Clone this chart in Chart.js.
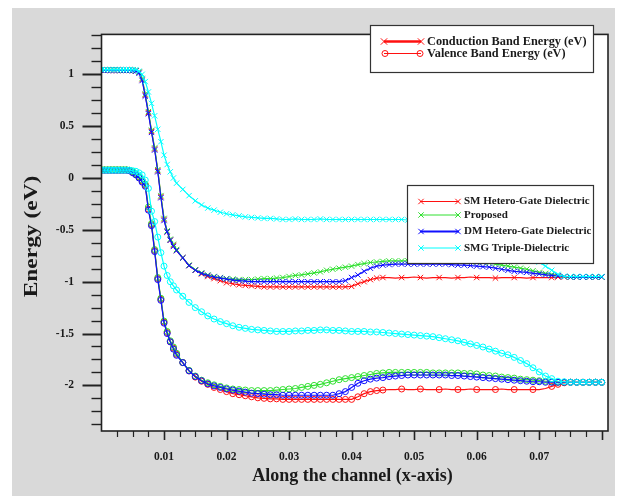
<!DOCTYPE html>
<html><head><meta charset="utf-8">
<script src="https://cdn.jsdelivr.net/npm/chart.js@4.4.1/dist/chart.umd.min.js"></script>
<style>
html,body{margin:0;padding:0;background:#fff;}
#panel{position:absolute;left:12px;top:8px;width:603px;height:488px;background:#d9d9d9;}
#c{position:absolute;left:0;top:0;}
</style></head><body>
<div id="panel"></div>
<canvas id="c" width="621" height="496"></canvas>
<script>
// ---------- data ----------
const xAlong = [0,0.0005,0.001,0.0015,0.002,0.0025,0.003,0.0035,0.004,0.0045,0.005,0.0055,0.006,0.0065,0.007,0.0075,0.008,0.0085,0.009,0.0095,0.010,0.0105,0.011,0.0115,0.012,
0.013,0.014,0.015,0.016,0.017,0.018,0.019,0.020,0.021,0.022,
0.023,0.024,0.025,0.026,0.027,0.028,0.029,0.030,0.031,0.032,
0.033,0.034,0.035,0.036,0.037,0.038,0.039,0.040,0.041,0.042,
0.043,0.044,0.045,0.046,0.047,0.048,0.049,0.050,0.051,0.052,
0.053,0.054,0.055,0.056,0.057,0.058,0.059,0.060,0.061,0.062,
0.063,0.064,0.065,0.066,0.067,0.068,0.069,0.070,0.071,0.072,
0.073,0.074,0.075,0.076,0.077,0.078,0.079,0.080];

// Conduction band (eV)
const cbSM = [1.04,1.04,1.04,1.04,1.04,1.04,1.04,1.04,1.04,1.04,1.04,1.035,1.02,0.95,0.80,0.63,0.45,0.28,0.07,-0.18,-0.40,-0.52,-0.60,-0.65,-0.70,
-0.77,-0.845,-0.89,-0.925,-0.95,-0.97,-0.99,-1.01,-1.02,-1.03,
-1.035,-1.04,-1.045,-1.05,-1.05,-1.05,-1.05,-1.05,-1.05,-1.05,
-1.05,-1.05,-1.05,-1.05,-1.05,-1.05,-1.05,-1.045,-1.02,-1.0,
-0.98,-0.965,-0.96,-0.96,-0.965,-0.96,-0.96,-0.955,-0.96,-0.965,
-0.96,-0.96,-0.96,-0.965,-0.96,-0.96,-0.955,-0.96,-0.96,-0.96,
-0.965,-0.96,-0.96,-0.96,-0.96,-0.965,-0.96,-0.96,-0.96,-0.96,
-0.955,-0.955,-0.955,-0.955,-0.955,-0.955,-0.955,-0.955];
const cbProp = [1.045,1.045,1.045,1.045,1.045,1.045,1.04,1.04,1.04,1.04,1.04,1.035,1.02,0.96,0.81,0.64,0.46,0.29,0.08,-0.17,-0.39,-0.51,-0.59,-0.64,-0.69,
-0.77,-0.84,-0.885,-0.915,-0.935,-0.95,-0.96,-0.97,-0.975,-0.98,
-0.98,-0.98,-0.975,-0.97,-0.97,-0.965,-0.96,-0.95,-0.94,-0.935,
-0.925,-0.915,-0.905,-0.89,-0.88,-0.87,-0.86,-0.85,-0.835,-0.825,
-0.815,-0.81,-0.805,-0.80,-0.80,-0.80,-0.80,-0.80,-0.80,-0.80,
-0.80,-0.80,-0.80,-0.80,-0.80,-0.80,-0.805,-0.81,-0.815,-0.82,
-0.83,-0.84,-0.85,-0.86,-0.87,-0.88,-0.895,-0.91,-0.92,-0.93,
-0.94,-0.95,-0.955,-0.955,-0.955,-0.955,-0.955,-0.955];
const cbDM = [1.04,1.04,1.04,1.04,1.04,1.04,1.04,1.04,1.04,1.04,1.035,1.03,1.01,0.94,0.79,0.62,0.44,0.27,0.06,-0.19,-0.41,-0.52,-0.60,-0.66,-0.70,
-0.77,-0.845,-0.89,-0.92,-0.94,-0.955,-0.965,-0.975,-0.985,-0.99,
-0.995,-1.0,-1.0,-1.0,-1.0,-1.0,-1.0,-1.0,-1.0,-1.0,
-1.0,-1.0,-1.0,-1.0,-1.0,-1.0,-0.99,-0.96,-0.935,-0.90,
-0.87,-0.85,-0.84,-0.835,-0.83,-0.83,-0.83,-0.83,-0.83,-0.83,
-0.83,-0.83,-0.83,-0.835,-0.84,-0.84,-0.845,-0.85,-0.855,-0.86,
-0.87,-0.88,-0.89,-0.90,-0.905,-0.91,-0.92,-0.925,-0.935,-0.94,
-0.945,-0.95,-0.955,-0.955,-0.955,-0.955,-0.955,-0.955];
const cbSMG = [1.045,1.045,1.045,1.045,1.045,1.045,1.045,1.045,1.045,1.045,1.045,1.045,1.03,1.0,0.93,0.83,0.72,0.60,0.47,0.35,0.22,0.13,0.06,0.0,-0.05,
-0.11,-0.17,-0.22,-0.26,-0.29,-0.31,-0.33,-0.345,-0.355,-0.365,
-0.375,-0.38,-0.385,-0.39,-0.39,-0.395,-0.40,-0.40,-0.395,-0.40,
-0.40,-0.40,-0.395,-0.40,-0.40,-0.40,-0.40,-0.40,-0.40,-0.40,
-0.40,-0.40,-0.40,-0.40,-0.40,-0.40,-0.405,-0.41,-0.415,-0.42,
-0.425,-0.43,-0.44,-0.45,-0.46,-0.475,-0.49,-0.505,-0.52,-0.54,
-0.56,-0.585,-0.615,-0.65,-0.69,-0.73,-0.77,-0.81,-0.85,-0.89,
-0.93,-0.95,-0.95,-0.95,-0.95,-0.95,-0.95,-0.95];

// Valence band (eV)
const vbSM = [0.075,0.075,0.075,0.075,0.075,0.075,0.075,0.075,0.075,0.07,0.055,0.035,0.01,-0.03,-0.07,-0.30,-0.45,-0.70,-0.97,-1.17,-1.39,-1.49,-1.58,-1.64,-1.70,
-1.78,-1.86,-1.92,-1.96,-1.99,-2.02,-2.04,-2.06,-2.08,-2.09,
-2.10,-2.11,-2.12,-2.125,-2.13,-2.13,-2.135,-2.135,-2.135,-2.135,
-2.135,-2.135,-2.135,-2.135,-2.135,-2.135,-2.135,-2.135,-2.11,-2.08,
-2.06,-2.05,-2.045,-2.04,-2.04,-2.035,-2.04,-2.04,-2.035,-2.04,
-2.04,-2.04,-2.035,-2.04,-2.04,-2.04,-2.035,-2.04,-2.04,-2.04,
-2.04,-2.035,-2.04,-2.04,-2.04,-2.04,-2.04,-2.04,-2.03,-2.01,
-1.99,-1.975,-1.97,-1.97,-1.97,-1.97,-1.97,-1.97];
const vbProp = [0.08,0.08,0.08,0.08,0.08,0.08,0.08,0.08,0.08,0.075,0.06,0.04,0.015,-0.02,-0.06,-0.28,-0.44,-0.69,-0.96,-1.16,-1.38,-1.48,-1.57,-1.63,-1.69,
-1.78,-1.855,-1.91,-1.95,-1.975,-1.995,-2.01,-2.025,-2.035,-2.04,
-2.045,-2.05,-2.05,-2.05,-2.05,-2.045,-2.04,-2.035,-2.03,-2.02,
-2.01,-2.0,-1.99,-1.975,-1.96,-1.945,-1.935,-1.925,-1.915,-1.905,
-1.895,-1.885,-1.88,-1.875,-1.875,-1.875,-1.875,-1.875,-1.875,-1.875,
-1.88,-1.88,-1.88,-1.88,-1.88,-1.885,-1.885,-1.89,-1.90,-1.905,
-1.91,-1.92,-1.925,-1.93,-1.94,-1.945,-1.95,-1.955,-1.96,-1.965,
-1.97,-1.97,-1.97,-1.97,-1.97,-1.97,-1.97,-1.97];
const vbDM = [0.075,0.075,0.075,0.075,0.075,0.075,0.075,0.075,0.075,0.07,0.05,0.03,0.0,-0.04,-0.08,-0.31,-0.46,-0.71,-0.98,-1.18,-1.40,-1.50,-1.58,-1.65,-1.71,
-1.78,-1.86,-1.915,-1.955,-1.985,-2.005,-2.02,-2.035,-2.045,-2.055,
-2.065,-2.075,-2.08,-2.085,-2.09,-2.09,-2.095,-2.095,-2.095,-2.095,
-2.095,-2.095,-2.095,-2.095,-2.095,-2.08,-2.06,-2.02,-1.98,-1.955,
-1.94,-1.93,-1.925,-1.915,-1.91,-1.905,-1.90,-1.90,-1.90,-1.90,
-1.90,-1.90,-1.90,-1.905,-1.905,-1.91,-1.915,-1.92,-1.925,-1.93,
-1.935,-1.94,-1.945,-1.95,-1.955,-1.96,-1.965,-1.965,-1.97,-1.97,
-1.97,-1.97,-1.97,-1.97,-1.97,-1.97,-1.97,-1.97];
const vbSMG = [0.075,0.075,0.075,0.075,0.075,0.075,0.075,0.075,0.075,0.075,0.07,0.065,0.05,0.03,-0.02,-0.10,-0.32,-0.42,-0.57,-0.72,-0.85,-0.94,-1.00,-1.04,-1.08,
-1.14,-1.20,-1.25,-1.29,-1.33,-1.36,-1.385,-1.405,-1.425,-1.44,
-1.45,-1.46,-1.465,-1.47,-1.475,-1.48,-1.48,-1.48,-1.475,-1.475,
-1.47,-1.47,-1.465,-1.465,-1.47,-1.47,-1.475,-1.48,-1.48,-1.48,
-1.485,-1.485,-1.49,-1.495,-1.50,-1.505,-1.51,-1.515,-1.52,-1.525,
-1.53,-1.54,-1.55,-1.56,-1.57,-1.585,-1.60,-1.615,-1.63,-1.65,
-1.67,-1.69,-1.705,-1.73,-1.76,-1.79,-1.83,-1.87,-1.91,-1.935,
-1.96,-1.965,-1.97,-1.97,-1.97,-1.97,-1.97,-1.97];

const seriesNames = ['SM Hetero-Gate Dielectric','Proposed','DM Hetero-Gate Dielectric','SMG Triple-Dielectric'];
const bandNames = ['Conduction Band Energy (eV)','Valence Band Energy (eV)'];
const xTickValues = [0.01,0.02,0.03,0.04,0.05,0.06,0.07];
const xTickLabels = ['0.01','0.02','0.03','0.04','0.05','0.06','0.07'];
const yTickValues = [-2,-1.5,-1,-0.5,0,0.5,1];
const yTickLabels = ['-2','-1.5','-1','-0.5','0','0.5','1'];
const xTitle = 'Along the channel (x-axis)';
const yTitle = 'Energy (eV)';

// ---------- styling ----------
const colors = ['#ff1010','#30e030','#1010ff','#00ffff'];
const drawOrder = [3,2,1,0]; // lower = on top
const cbSets = [cbSM, cbProp, cbDM, cbSMG];
const vbSets = [vbSM, vbProp, vbDM, vbSMG];
const SERIF = '"Liberation Serif", "DejaVu Serif", serif';

// SM series shows only sparse markers after the junction
function radiusFor(i, base) {
  if (i !== 0) return base;
  return (c) => {
    const p = c.raw;
    if (p && p.x > 0.0455 && p.x < 0.0715 && (c.dataIndex % 3 !== 0)) return 0;
    return base;
  };
}

const datasets = [];
cbSets.forEach((arr, i) => datasets.push({
  label: seriesNames[i] + ' - ' + bandNames[0],
  data: xAlong.map((x, k) => ({x, y: arr[k]})),
  borderColor: colors[i], backgroundColor: 'rgba(0,0,0,0)',
  borderWidth: 1.2, pointStyle: 'crossRot', pointRadius: radiusFor(i, 3.8), pointBorderWidth: 1,
  pointBorderColor: colors[i], order: drawOrder[i], tension: 0
}));
vbSets.forEach((arr, i) => datasets.push({
  label: seriesNames[i] + ' - ' + bandNames[1],
  data: xAlong.map((x, k) => ({x, y: arr[k]})),
  borderColor: colors[i], backgroundColor: 'rgba(0,0,0,0)',
  borderWidth: 1.2, pointStyle: 'circle', pointRadius: radiusFor(i, 3), pointBorderWidth: 1,
  pointBorderColor: colors[i], pointBackgroundColor: 'rgba(255,255,255,0)',
  order: drawOrder[i], tension: 0
}));

function marker(ctx, style, x, y, r, color, lw) {
  ctx.save();
  ctx.strokeStyle = color; ctx.lineWidth = lw || 1;
  ctx.beginPath();
  if (style === 'crossRot') {
    const d = r * 0.7071;
    ctx.moveTo(x - d, y - d); ctx.lineTo(x + d, y + d);
    ctx.moveTo(x - d, y + d); ctx.lineTo(x + d, y - d);
  } else {
    ctx.arc(x, y, r, 0, Math.PI * 2);
  }
  ctx.stroke();
  ctx.restore();
}

const decor = {
  id: 'decor',
  beforeDraw(chart) {
    const {ctx, chartArea: a} = chart;
    ctx.save();
    ctx.fillStyle = '#ffffff';
    ctx.fillRect(a.left, a.top, a.right - a.left, a.bottom - a.top);
    ctx.restore();
  },
  afterDraw(chart) {
    const {ctx, chartArea: a, scales: {x, y}} = chart;
    ctx.save();
    // tick marks
    ctx.strokeStyle = '#222';
    for (let k = -19; k <= 11; k++) {
      const v = k * 0.125;
      if (v < y.min || v > y.max) continue;
      const py = Math.round(y.getPixelForValue(v)) + 0.5;
      const major = (k % 4 === 0);
      ctx.lineWidth = major ? 2 : 1.4;
      ctx.beginPath(); ctx.moveTo(a.left - (major ? 19 : 10), py); ctx.lineTo(a.left, py); ctx.stroke();
    }
    for (let k = 1; k * 0.0025 <= x.max + 1e-9; k++) {
      const v = k * 0.0025;
      const px = Math.round(x.getPixelForValue(v)) + 0.5;
      const major = (k % 4 === 0);
      ctx.lineWidth = major ? 1.6 : 1.2;
      ctx.beginPath(); ctx.moveTo(px, a.bottom); ctx.lineTo(px, a.bottom + (major ? 9 : 6)); ctx.stroke();
    }
    // frame
    ctx.lineWidth = 1.6; ctx.strokeStyle = '#222';
    ctx.strokeRect(a.left, a.top, a.right - a.left, a.bottom - a.top);

    // axis titles
    ctx.fillStyle = '#1a1a1a';
    ctx.font = 'bold 18px ' + SERIF;
    ctx.textAlign = 'center'; ctx.textBaseline = 'middle';
    ctx.fillText(xTitle, 352.5, 476);
    ctx.save();
    ctx.translate(32, 236.5); ctx.rotate(-Math.PI / 2); ctx.scale(1.3, 1);
    ctx.fillText(yTitle, 0, 0);
    ctx.restore();

    // legend 1 (bands)
    ctx.fillStyle = '#fff'; ctx.strokeStyle = '#333'; ctx.lineWidth = 1.2;
    ctx.fillRect(370.5, 25.5, 223, 47); ctx.strokeRect(370.5, 25.5, 223, 47);
    const l1y = [41.5, 53.5];
    ctx.strokeStyle = colors[0];
    ctx.lineWidth = 2.4; ctx.beginPath(); ctx.moveTo(384, l1y[0]); ctx.lineTo(421, l1y[0]); ctx.stroke();
    marker(ctx, 'crossRot', 384, l1y[0], 4.5, colors[0], 1);
    marker(ctx, 'crossRot', 421, l1y[0], 4.5, colors[0], 1);
    ctx.strokeStyle = colors[0]; ctx.lineWidth = 1;
    ctx.beginPath(); ctx.moveTo(384, l1y[1]); ctx.lineTo(421, l1y[1]); ctx.stroke();
    marker(ctx, 'circle', 385, l1y[1], 3, colors[0], 1);
    marker(ctx, 'circle', 420, l1y[1], 3, colors[0], 1);
    ctx.fillStyle = '#1a1a1a'; ctx.font = 'bold 12.3px ' + SERIF;
    ctx.textAlign = 'left'; ctx.textBaseline = 'middle';
    ctx.fillText(bandNames[0], 427, l1y[0]);
    ctx.fillText(bandNames[1], 427, l1y[1]);

    // legend 2 (devices)
    ctx.fillStyle = '#fff'; ctx.strokeStyle = '#333'; ctx.lineWidth = 1.2;
    ctx.fillRect(407.5, 185.5, 186, 78); ctx.strokeRect(407.5, 185.5, 186, 78);
    const l2y = [201.5, 215, 231.5, 248];
    ctx.font = 'bold 11px ' + SERIF;
    seriesNames.forEach((n, i) => {
      ctx.strokeStyle = colors[i]; ctx.lineWidth = (i === 2) ? 1.8 : 1;
      ctx.beginPath(); ctx.moveTo(420, l2y[i]); ctx.lineTo(459, l2y[i]); ctx.stroke();
      marker(ctx, 'crossRot', 421, l2y[i], 3.8, colors[i], 1);
      marker(ctx, 'crossRot', 458, l2y[i], 3.8, colors[i], 1);
      ctx.fillStyle = '#1a1a1a';
      ctx.fillText(n, 464, l2y[i]);
    });
    ctx.restore();
  }
};

new Chart(document.getElementById('c'), {
  type: 'line',
  data: {datasets},
  plugins: [decor],
  options: {
    responsive: false, animation: false, devicePixelRatio: 1,
    layout: {padding: {top: 17, right: 13, left: 0, bottom: 0}},
    plugins: {legend: {display: false}, tooltip: {enabled: false}},
    scales: {
      x: {
        type: 'linear', min: 0, max: 0.081,
        afterFit(s) { s.height = 65; },
        afterBuildTicks(s) { s.ticks = xTickValues.map(v => ({value: v})); },
        grid: {display: false, drawTicks: false},
        border: {display: false},
        ticks: {
          autoSkip: false, maxRotation: 0, padding: 19, color: '#1a1a1a',
          font: {family: SERIF, size: 11.5, weight: 'bold'},
          callback: (v) => { const i = xTickValues.findIndex(t => Math.abs(t - v) < 1e-9); return i >= 0 ? xTickLabels[i] : ''; }
        }
      },
      y: {
        type: 'linear', min: -2.44, max: 1.385,
        afterFit(s) { s.width = 101.5; },
        afterBuildTicks(s) { s.ticks = yTickValues.map(v => ({value: v})); },
        grid: {display: false, drawTicks: false},
        border: {display: false},
        ticks: {
          autoSkip: false, padding: 27.5, color: '#1a1a1a',
          font: {family: SERIF, size: 11.5, weight: 'bold'},
          callback: (v) => { const i = yTickValues.findIndex(t => Math.abs(t - v) < 1e-9); return i >= 0 ? yTickLabels[i] : ''; }
        }
      }
    }
  }
});
</script>
</body></html>
